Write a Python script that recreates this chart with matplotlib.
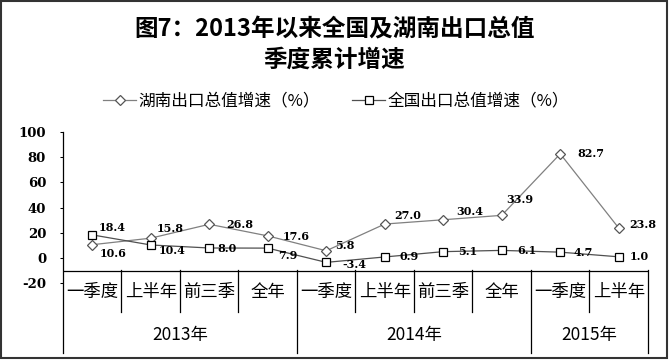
import numpy as np
import matplotlib
matplotlib.use('Agg')
import matplotlib.pyplot as plt
from matplotlib.lines import Line2D
from matplotlib.patches import Rectangle
from matplotlib.transforms import blended_transform_factory

plt.rcParams['font.family'] = ['Noto Sans CJK SC', 'DejaVu Sans']
plt.rcParams['axes.unicode_minus'] = False

# data
quarters = ['一季度', '上半年', '前三季', '全年', '一季度', '上半年', '前三季', '全年', '一季度', '上半年']
years = ['2013年', '2014年', '2015年']
year_spans = [4, 4, 2]
hunan = [10.6, 15.8, 26.8, 17.6, 5.8, 27.0, 30.4, 33.9, 82.7, 23.8]
national = [18.4, 10.4, 8.0, 7.9, -3.4, 0.9, 5.1, 6.1, 4.7, 1.0]
yticks = [-20, 0, 20, 40, 60, 80, 100]

# label offsets in pixels (styling)
hunan_off = [(7, -9), (6, 10), (17, 0), (15, -1), (9, 5), (10, 9), (13, 8), (5, 16), (17, 0), (11, 4)]
national_off = [(6, 7), (8, -6), (8, -1), (10, -7), (16, -2), (15, 0), (15, 0), (15, 0), (13, 0), (11, 0)]

W, H = 669, 363
fig = plt.figure(figsize=(W / 100, H / 100), dpi=100)
fy = lambda p: 1 - p / H
fx = lambda p: p / W

fig.text(0.5, fy(29), '图7：2013年以来全国及湖南出口总值', ha='center', va='center',
         fontsize=17, fontweight='bold')
fig.text(0.5, fy(60), '季度累计增速', ha='center', va='center',
         fontsize=17, fontweight='bold')

ax = fig.add_axes([fx(63), fy(283.3), fx(648 - 63), (283.3 - 132) / H])
x = np.arange(len(quarters))
l1, = ax.plot(x, hunan, color='#808080', lw=0.9, marker='D', ms=5.6,
              mfc='white', mec='#555555', mew=0.9, clip_on=False, zorder=3)
l2, = ax.plot(x, national, color='#505050', lw=0.9, marker='s', ms=6.2,
              mfc='white', mec='black', mew=0.9, clip_on=False, zorder=3)

for xi, v, (dx, dy) in zip(x, hunan, hunan_off):
    ax.annotate('%.1f' % v, (xi, v), xytext=(dx, dy), textcoords='offset pixels',
                ha='left', va='center', fontsize=8, fontweight='bold', family='DejaVu Serif')
for xi, v, (dx, dy) in zip(x, national, national_off):
    ax.annotate('%.1f' % v, (xi, v), xytext=(dx, dy), textcoords='offset pixels',
                ha='left', va='center', fontsize=8, fontweight='bold', family='DejaVu Serif')

ax.set_xlim(-0.5, len(quarters) - 0.5)
ax.set_ylim(-20, 100)
ax.set_yticks(yticks)
ax.set_xticks([])
for s in ax.spines.values():
    s.set_visible(False)
ax.tick_params(axis='y', direction='out', length=2.2, width=0.75, pad=10)
for t in ax.get_yticklabels():
    t.set_fontfamily('DejaVu Serif')
    t.set_fontweight('bold')
    t.set_fontsize(9.5)
ax.axhline(-10, color='black', lw=0.9)

# category axis area
tr = blended_transform_factory(ax.transData, fig.transFigure)
ax.add_line(Line2D([-0.5, -0.5], [fy(132), fy(353)], transform=tr, color='black', lw=0.9, clip_on=False))
bounds = np.cumsum([0] + year_spans)
for i in range(1, len(quarters) + 1):
    bottom = 353 if i in bounds else 312
    ax.add_line(Line2D([i - 0.5, i - 0.5], [fy(270), fy(bottom)], transform=tr,
                       color='black', lw=0.9, clip_on=False))
for xi, q in zip(x, quarters):
    ax.text(xi, fy(292), q, transform=tr, ha='center', va='center', fontsize=12.5)
for k, yl in enumerate(years):
    c = (bounds[k] + bounds[k + 1] - 1) / 2
    ax.text(c, fy(335), yl, transform=tr, ha='center', va='center', fontsize=12.5)

fig.legend([l1, l2], ['湖南出口总值增速（%）', '全国出口总值增速（%）'], loc='center',
           bbox_to_anchor=(fx(336), fy(101)), ncol=2, frameon=False, fontsize=12,
           handlelength=2.0, handletextpad=0.15, columnspacing=1.9)

fig.patches.append(Rectangle((fx(1), fy(358)), fx(666), 357 / H, transform=fig.transFigure,
                             fill=False, edgecolor='#333333', lw=1.5))

fig.savefig('out.png', dpi=100)
